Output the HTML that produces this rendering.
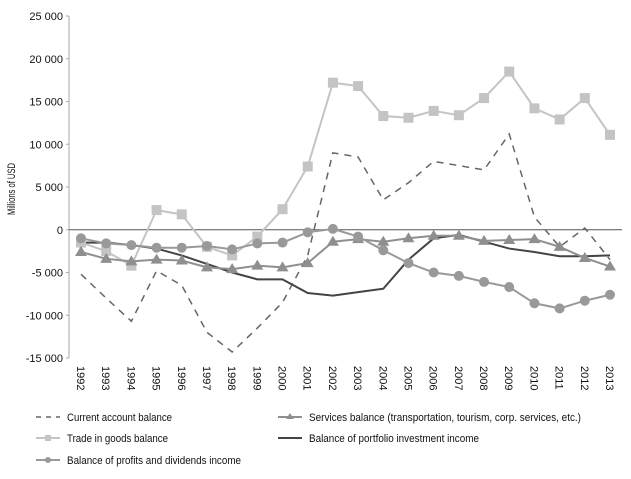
<!DOCTYPE html>
<html><head><meta charset="utf-8"><style>
body{margin:0;background:#fff;font-family:"Liberation Sans",sans-serif;}
svg text{font-family:"Liberation Sans",sans-serif;font-size:11px;fill:#111;}
</style></head><body>
<svg id="c" width="631" height="474"></svg>
<script>
const years=[1992,1993,1994,1995,1996,1997,1998,1999,2000,2001,2002,2003,2004,2005,2006,2007,2008,2009,2010,2011,2012,2013];
const currentAccount=[-5200,-8000,-10700,-4800,-6500,-12000,-14300,-11500,-8500,-3000,9000,8500,3500,5500,8000,7500,7000,11200,1500,-2000,200,-3500];
const tradeGoods=[-1500,-2500,-4200,2300,1800,-2000,-3000,-800,2400,7400,17200,16800,13300,13100,13900,13400,15400,18500,14200,12900,15400,11100];
const services=[-2600,-3400,-3700,-3500,-3600,-4400,-4600,-4200,-4400,-3900,-1400,-1100,-1400,-1000,-700,-700,-1300,-1200,-1100,-2000,-3300,-4300];
const portfolio=[-1500,-1500,-1800,-2200,-3000,-4000,-5000,-5800,-5800,-7400,-7700,-7300,-6900,-3500,-1000,-600,-1400,-2200,-2600,-3100,-3100,-3000];
const profits=[-1000,-1600,-1800,-2100,-2100,-1900,-2300,-1600,-1500,-300,100,-800,-2400,-3900,-5000,-5400,-6100,-6700,-8600,-9200,-8300,-7600];
const yTicks=[25000,20000,15000,10000,5000,0,-5000,-10000,-15000];
const yLabels=["25 000","20 000","15 000","10 000","5 000","0","-5 000","-10 000","-15 000"];
const NS="http://www.w3.org/2000/svg",svg=document.getElementById('c');
const X=i=>81+i*(610-81)/(years.length-1);
const Y=v=>16+(25000-v)*342/40000;
function el(t,a,p){const e=document.createElementNS(NS,t);for(const k in a)e.setAttribute(k,a[k]);(p||svg).appendChild(e);return e;}
let ax=el('line',{x1:69,x2:69,y1:16,y2:358,stroke:'#aaa','stroke-width':1});


let zl=el('line',{x1:69,x2:622,y1:Y(0),y2:Y(0),stroke:'#555','stroke-width':1});


yTicks.forEach((v,i)=>{
 el('line',{x1:66,x2:69,y1:Y(v),y2:Y(v),stroke:'#aaa'});
 let t=el('text',{x:63,y:Y(v)+4,'text-anchor':'end','font-size':'12'});t.textContent=yLabels[i];
 
 
});
let yt=el('text',{transform:'translate(15,189) rotate(-90)','text-anchor':'middle','font-size':'10',textLength:'52',lengthAdjust:'spacingAndGlyphs'});yt.textContent='Millions of USD';


years.forEach((y,i)=>{
 let t=el('text',{transform:`translate(${X(i)-4},366) rotate(90)`,'text-anchor':'start','font-size':'12'});t.textContent=y;
 
 
});
function line(data,name,stroke,w,dash){
 const p=el('polyline',{points:data.map((v,i)=>X(i)+','+Y(v)).join(' '),fill:'none',stroke:stroke,'stroke-width':w});
 if(dash)p.setAttribute('stroke-dasharray',dash);
 
 
}
line(currentAccount,'current-account-line','#666',1.5,'7,6');
line(portfolio,'portfolio-line','#444',2);
line(tradeGoods,'trade-goods-line','#c4c4c4',2);
tradeGoods.forEach((v,i)=>{const r=el('rect',{x:X(i)-5,y:Y(v)-5,width:10,height:10,fill:'#c4c4c4'});
 
 });
line(services,'services-line','#8f8f8f',2);
services.forEach((v,i)=>{const x=X(i),y=Y(v);const r=el('polygon',{points:`${x},${y-6} ${x-6},${y+4} ${x+6},${y+4}`,fill:'#8f8f8f'});
 
 });
line(profits,'profits-line','#999',2);
profits.forEach((v,i)=>{const r=el('circle',{cx:X(i),cy:Y(v),r:5,fill:'#999'});
 
 });
function leg(x,y,name,text,kind,len){
 const g=el('g',{});
 
 
 const w=24,m=x+12;
 if(kind==='dash')el('line',{x1:x,x2:x+w,y1:y,y2:y,stroke:'#666','stroke-width':1.5,'stroke-dasharray':'5,5'},g);
 if(kind==='solid')el('line',{x1:x,x2:x+w,y1:y,y2:y,stroke:'#444','stroke-width':2},g);
 if(kind==='sq'){el('line',{x1:x,x2:x+w,y1:y,y2:y,stroke:'#c4c4c4','stroke-width':2},g);el('rect',{x:m-3,y:y-3,width:6,height:6,fill:'#c4c4c4'},g);}
 if(kind==='tri'){el('line',{x1:x,x2:x+w,y1:y,y2:y,stroke:'#8f8f8f','stroke-width':2},g);el('polygon',{points:`${m},${y-4} ${m-4},${y+2} ${m+4},${y+2}`,fill:'#8f8f8f'},g);}
 if(kind==='circ'){el('line',{x1:x,x2:x+w,y1:y,y2:y,stroke:'#999','stroke-width':2},g);el('circle',{cx:m,cy:y,r:3,fill:'#999'},g);}
 const t=el('text',{x:x+31,y:y+4,'font-size':'12',textLength:len,lengthAdjust:'spacingAndGlyphs'},g);t.textContent=text;
}
leg(36,417,'legend-current-account','Current account balance','dash',105);
leg(36,438,'legend-trade-goods','Trade in goods balance','sq',101);
leg(36,460,'legend-profits','Balance of profits and dividends income','circ',174);
leg(278,417,'legend-services','Services balance (transportation, tourism, corp. services, etc.)','tri',272);
leg(278,438,'legend-portfolio','Balance of portfolio investment income','solid',170);
</script>
</body></html>
